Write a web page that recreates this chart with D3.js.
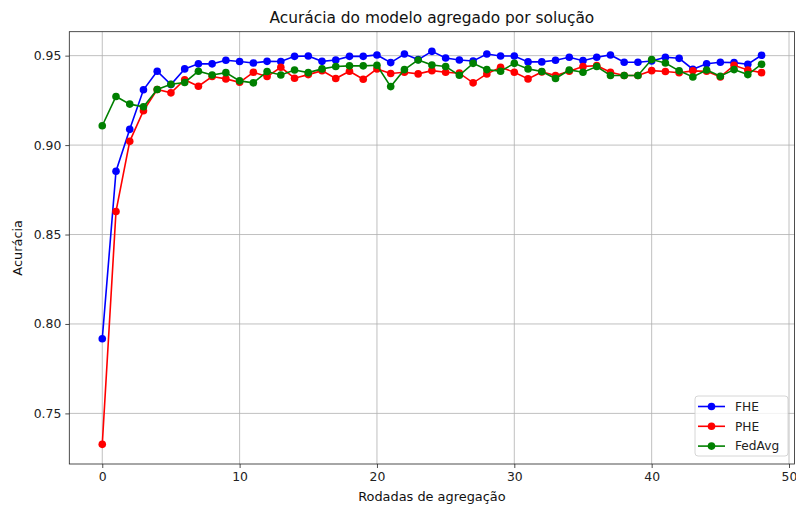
<!DOCTYPE html>
<html><head><meta charset="utf-8">
<script src="https://cdn.jsdelivr.net/npm/d3@7"></script>
<style>body{margin:0;background:#fff}svg{display:block;font-family:"DejaVu Sans",sans-serif}</style>
</head><body><svg id="c" width="796" height="507"></svg>
<script>
const rounds = d3.range(0, 49);
const fhe = [0.7917,0.8854,0.9088,0.9309,0.9413,0.9338,0.9426,0.9454,0.9454,0.9474,0.9467,0.9459,0.9468,0.9467,0.9496,0.9498,0.9468,0.9476,0.9496,0.9496,0.9504,0.9461,0.9509,0.9478,0.9524,0.9487,0.9476,0.9470,0.9509,0.9498,0.9498,0.9465,0.9465,0.9474,0.9491,0.9472,0.9491,0.9504,0.9463,0.9463,0.9470,0.9491,0.9485,0.9424,0.9455,0.9463,0.9461,0.9452,0.9502];
const phe = [0.7327,0.8629,0.9021,0.9192,0.9311,0.9292,0.9365,0.9329,0.9383,0.9370,0.9351,0.9407,0.9383,0.9435,0.9374,0.9394,0.9416,0.9372,0.9413,0.9368,0.9426,0.9400,0.9407,0.9398,0.9416,0.9407,0.9402,0.9348,0.9398,0.9435,0.9407,0.9370,0.9409,0.9389,0.9413,0.9439,0.9444,0.9407,0.9389,0.9389,0.9416,0.9411,0.9404,0.9415,0.9413,0.9381,0.9446,0.9420,0.9405];
const fedavg = [0.9108,0.9272,0.9229,0.9214,0.9311,0.9340,0.9350,0.9413,0.9392,0.9405,0.9359,0.9348,0.9411,0.9392,0.9420,0.9405,0.9426,0.9439,0.9443,0.9443,0.9446,0.9327,0.9422,0.9476,0.9448,0.9439,0.9390,0.9457,0.9422,0.9413,0.9457,0.9426,0.9411,0.9372,0.9420,0.9407,0.9439,0.9389,0.9389,0.9389,0.9478,0.9459,0.9415,0.9381,0.9420,0.9385,0.9422,0.9394,0.9452];
const seriesNames = ["FHE","PHE","FedAvg"];
const seriesColors = ["#0000ff","#ff0000","#008000"];
const xTicks = [0,10,20,30,40,50];
const yTicks = [0.75,0.80,0.85,0.90,0.95];
const titleText = "Acurácia do modelo agregado por solução";
const xLabel = "Rodadas de agregação";
const yLabel = "Acurácia";

const series = [fhe, phe, fedavg];
const svg = d3.select("#c");
const L = 69.3, R = 794.5, T = 31.7, B = 464;
const allV = series.flat();
const vmin = d3.min(allV), vmax = d3.max(allV), pad = (vmax - vmin) * 0.05;
const x = d3.scaleLinear().domain([-2.4, 50.4]).range([L, R]);
const y = d3.scaleLinear().domain([vmin - pad, vmax + pad]).range([B, T]);

// grid
const g = svg.append("g");
g.selectAll(".gx").data(xTicks).join("line")
  .attr("x1", d => x(d)).attr("x2", d => x(d)).attr("y1", T).attr("y2", B)
  .attr("stroke", "#b0b0b0").attr("stroke-width", 0.8);
g.selectAll(".gy").data(yTicks).join("line")
  .attr("x1", L).attr("x2", R).attr("y1", d => y(d)).attr("y2", d => y(d))
  .attr("stroke", "#b0b0b0").attr("stroke-width", 0.8);

// axes
const xa = svg.append("g").attr("transform", `translate(0,${B})`)
  .call(d3.axisBottom(x).tickValues(xTicks).tickFormat(d3.format("d")).tickSizeOuter(0).tickSize(4).tickPadding(4));
const ya = svg.append("g").attr("transform", `translate(${L},0)`)
  .call(d3.axisLeft(y).tickValues(yTicks).tickFormat(d3.format(".2f")).tickSizeOuter(0).tickSize(4).tickPadding(4));
[xa, ya].forEach(a => {
  a.select(".domain").remove();
  a.selectAll("text").attr("font-size", 12.4).attr("fill", "#222").attr("font-family", "DejaVu Sans");
  a.selectAll("line").attr("stroke", "#222").attr("stroke-width", 0.8);
});

// lines + markers
series.forEach((s, i) => {
  const line = d3.line().x((d, j) => x(rounds[j])).y(d => y(d));
  svg.append("path").datum(s).attr("d", line).attr("fill", "none")
    .attr("stroke", seriesColors[i]).attr("stroke-width", 1.6);
  svg.append("g").selectAll("circle").data(s).join("circle")
    .attr("cx", (d, j) => x(rounds[j])).attr("cy", d => y(d)).attr("r", 3.8)
    .attr("fill", seriesColors[i]);
});

// frame
svg.append("rect").attr("x", L).attr("y", T).attr("width", R - L).attr("height", B - T)
  .attr("fill", "none").attr("stroke", "#222").attr("stroke-width", 0.8);

// title & labels
svg.append("text").attr("x", (L + R) / 2).attr("y", 23).attr("text-anchor", "middle")
  .attr("font-size", 15.4).attr("fill", "#111").text(titleText);
svg.append("text").attr("x", (L + R) / 2).attr("y", 501).attr("text-anchor", "middle")
  .attr("font-size", 12.9).attr("fill", "#111").text(xLabel);
svg.append("text").attr("transform", `translate(22,${(T + B) / 2}) rotate(-90)`).attr("text-anchor", "middle")
  .attr("font-size", 12.9).attr("fill", "#111").text(yLabel);

// legend
const lg = svg.append("g").attr("transform", "translate(695,396)");
lg.append("rect").attr("width", 93).attr("height", 60).attr("rx", 3)
  .attr("fill", "rgba(255,255,255,0.8)").attr("stroke", "#ccc").attr("stroke-width", 0.8);
seriesNames.forEach((n, i) => {
  const yy = 10.5 + i * 19.8;
  lg.append("line").attr("x1", 3).attr("x2", 30).attr("y1", yy).attr("y2", yy)
    .attr("stroke", seriesColors[i]).attr("stroke-width", 1.6);
  lg.append("circle").attr("cx", 16.5).attr("cy", yy).attr("r", 3.8).attr("fill", seriesColors[i]);
  lg.append("text").attr("x", 40).attr("y", yy + 4.3).attr("font-size", 12.2).attr("fill", "#222").text(n);
});
</script></body></html>
